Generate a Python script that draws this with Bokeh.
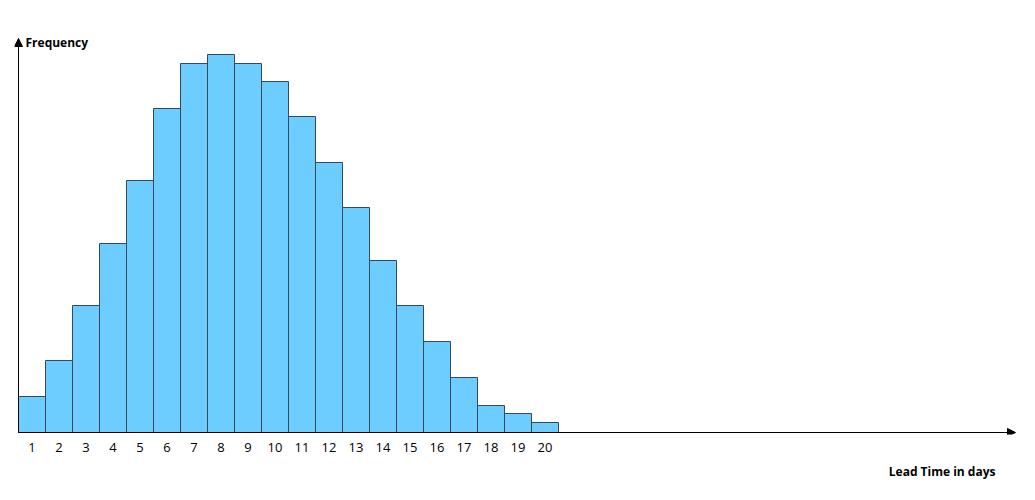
from bokeh.plotting import figure
from bokeh.models import ColumnDataSource, Arrow, NormalHead, Label, FixedTicker, Range1d, Title
from bokeh.embed import file_html
from bokeh.resources import INLINE

days = list(range(1, 21))
frequency = [36, 72, 127, 189, 252, 324, 369, 378, 369, 351,
             316, 270, 225, 172, 127, 91, 55, 27, 19, 10]
tick_labels = [str(d) for d in days]
x_title = "Lead Time in days"
y_title = "Frequency"

FONT = "Open Sans"
PX = 27.0  # pixels per day unit

ml, mr, mt, mb = 14, 4, 30, 62
fw, fh = 1009, 404
W, H = ml + fw + mr, mt + fh + mb
x0 = 0.5 - 4 / PX
y0 = -2

p = figure(width=W, height=H, output_backend="svg", toolbar_location=None,
           x_range=Range1d(x0, x0 + fw / PX), y_range=Range1d(y0, y0 + fh),
           y_axis_location=None, min_border_left=ml, min_border_right=mr,
           min_border_top=mt, min_border_bottom=mb)
p.outline_line_color = None
p.grid.visible = False

src = ColumnDataSource(dict(x=days, top=frequency))
p.vbar(x="x", top="top", bottom=0, width=1, source=src,
       fill_color="#6dcdff", line_color="#34495a", line_width=1)

ax = p.xaxis[0]
ax.ticker = FixedTicker(ticks=days)
ax.major_label_overrides = {d: l for d, l in zip(days, tick_labels)}
ax.axis_line_color = None
ax.major_tick_line_color = None
ax.minor_tick_line_color = None
ax.major_label_standoff = 2
ax.major_label_text_font = FONT
ax.major_label_text_font_size = "13px"
ax.major_label_text_color = "black"

head = dict(size=8, fill_color="black", line_color="black")
p.add_layout(Arrow(end=NormalHead(**head), x_start=0.5, y_start=0,
                   x_end=0.5 + 997 / PX, y_end=0, line_width=1, line_color="black"))
p.add_layout(Arrow(end=NormalHead(**head), x_start=0.5, y_start=0,
                   x_end=0.5, y_end=394, line_width=1, line_color="black"))

p.add_layout(Label(x=0.5 + 7 / PX, y=390, text=y_title, text_font=FONT,
                   text_font_size="12px", text_font_style="bold",
                   text_baseline="middle", text_align="left", text_color="black"))

p.add_layout(Title(text=x_title, align="right", offset=28, standoff=16,
                   vertical_align="top",
                   text_font=FONT, text_font_size="12px", text_font_style="bold",
                   text_color="black"), "below")

open("out.html", "w").write(file_html(p, INLINE))
